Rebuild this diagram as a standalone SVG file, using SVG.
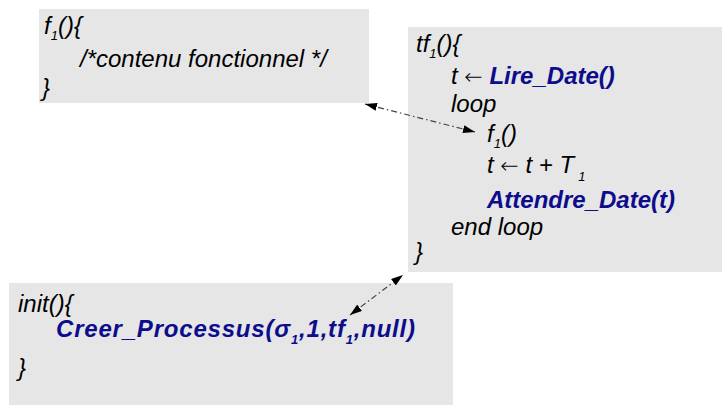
<svg xmlns="http://www.w3.org/2000/svg" width="722" height="405" viewBox="0 0 722 405">
<style>
.box{fill:#e6e6e6;}
text{font-family:"Liberation Sans",Arial,sans-serif;font-style:italic;font-size:24px;fill:#000;}
.b{font-weight:bold;fill:#0c0c8c;}
.s{font-size:13px;}
.ar{font-family:"DejaVu Sans",sans-serif;font-style:normal;font-weight:200;font-size:22px;}
.c{fill:none;stroke:#444;stroke-width:1.2;stroke-dasharray:6,3,1.5,3;}
</style>
<defs>
<marker id="ah" viewBox="0 0 12 8" refX="12" refY="4" markerWidth="12" markerHeight="8" markerUnits="userSpaceOnUse" orient="auto-start-reverse">
<path d="M0,0 L12,4 L0,8 Z" fill="#000"/>
</marker>
</defs>
<g id="f1">
<rect class="box" x="39" y="9" width="330" height="94"/>
<text x="44" y="34">f<tspan class="s" dy="6">1</tspan><tspan dy="-6">(){</tspan></text>
<text x="80" y="67">/*contenu fonctionnel */</text>
<text x="42" y="96">}</text>
</g>
<g id="tf1">
<rect class="box" x="408" y="27" width="314" height="245"/>
<text x="416" y="52">tf<tspan class="s" dy="6">1</tspan><tspan dy="-6">(){</tspan></text>
<text x="451" y="84">t <tspan class="ar">←</tspan> <tspan class="b">Lire_Date()</tspan></text>
<text x="451" y="112">loop</text>
<text x="487" y="142">f<tspan class="s" dy="6">1</tspan><tspan dy="-6">()</tspan></text>
<text x="487" y="173">t <tspan class="ar">←</tspan> t + T<tspan class="s" dx="4" dy="8">1</tspan></text>
<text x="487" y="208" class="b">Attendre_Date(t)</text>
<text x="451" y="235">end loop</text>
<text x="415" y="260">}</text>
</g>
<g id="init">
<rect class="box" x="9" y="283" width="444" height="122"/>
<text x="18" y="312">init(){</text>
<text x="56" y="337" class="b" letter-spacing="0.8">Creer_Processus(σ<tspan class="s" dy="7">1</tspan><tspan dy="-7">,1,tf</tspan><tspan class="s" dy="7">1</tspan><tspan dy="-7">,null)</tspan></text>
<text x="18" y="376">}</text>
</g>
<g id="connectors">
<line class="c" x1="365" y1="104" x2="475" y2="132" marker-start="url(#ah)" marker-end="url(#ah)"/>
<line class="c" x1="350" y1="315" x2="403" y2="275" marker-start="url(#ah)" marker-end="url(#ah)"/>
</g>
</svg>
